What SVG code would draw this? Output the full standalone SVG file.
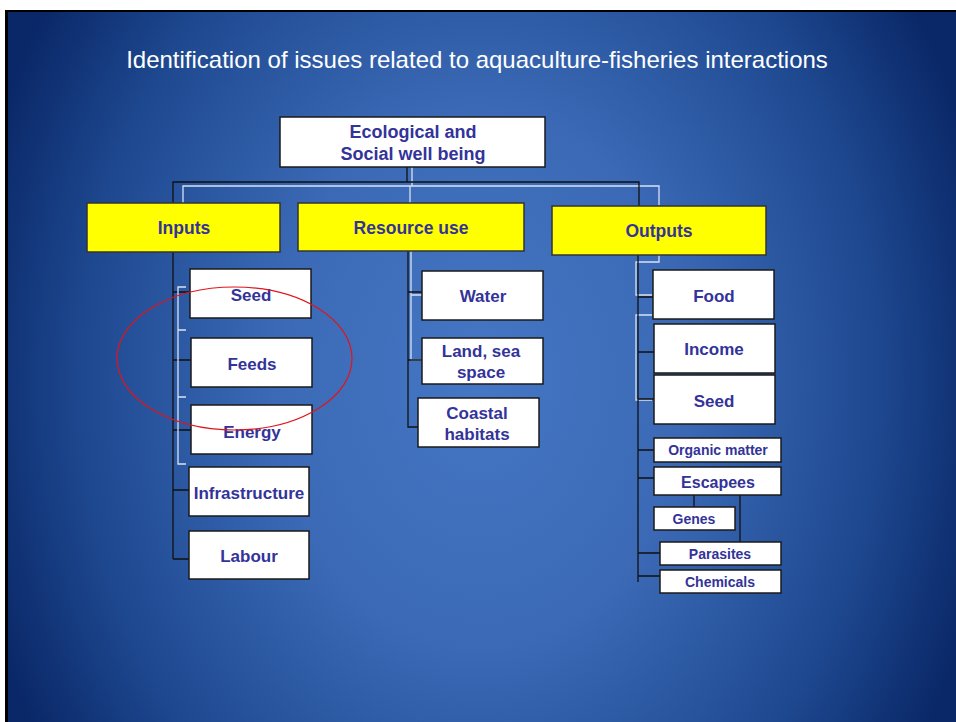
<svg xmlns="http://www.w3.org/2000/svg" width="956" height="722" viewBox="0 0 956 722">
<defs>
<radialGradient id="bg" gradientUnits="userSpaceOnUse" cx="480" cy="380" r="520" gradientTransform="translate(480 380) scale(1 1.3) translate(-480 -380)">
<stop offset="0" stop-color="#4577c4"/>
<stop offset="0.4" stop-color="#3b69b5"/>
<stop offset="0.75" stop-color="#1f4a92"/>
<stop offset="1" stop-color="#0a2868"/>
</radialGradient>
<style>
.wb{fill:#ffffff;stroke:#1a1a1a;stroke-width:1.5}
.yb{fill:#ffff00;stroke:#333333;stroke-width:1.5}
.t{font-family:"Liberation Sans",Arial,sans-serif;font-weight:bold;fill:#333399;text-anchor:middle}
.l{font-size:17px}
.s{font-size:14px}
.k{fill:none;stroke:#111111;stroke-width:1.3}
.w{fill:none;stroke:#d8e2f2;stroke-width:1.3}
</style>
</defs>
<rect x="0" y="0" width="956" height="722" fill="#ffffff"/>
<rect x="5" y="10" width="951" height="712" fill="#000000"/>
<rect x="8" y="12" width="948" height="710" fill="url(#bg)"/>
<text x="477" y="68" font-family="'Liberation Sans',Arial,sans-serif" font-size="24" fill="#ffffff" text-anchor="middle">Identification of issues related to aquaculture-fisheries interactions</text>

<g id="connectors">
<path class="w" d="M412 167V186 M183 203V186H659V205"/>
<path class="w" d="M410 186V203"/>
<path class="k" d="M407 167V182 M173 203V182H639V206"/>
<path class="k" d="M173 252V559 M173 292H190 M173 360H191 M173 430H191 M173 490H189 M173 559H189"/>
<path class="w" d="M186 287H178V464H186 M178 330H186 M178 397H186"/>
<path class="w" d="M411 251V360H422 M411 295H422"/>
<path class="k" d="M408 251V427H418 M408 292H422 M408 360H422"/>
<path class="w" d="M659 255V262H636V295H652 M652 315H636V400H652"/>
<path class="k" d="M638 255V582 M638 297H653 M638 352H654 M638 399H654 M638 450H654 M638 478H654 M638 553H660 M638 576H660 M694 495V507 M740 495V542"/>
</g>

<g id="top"><rect class="wb" x="280" y="117" width="265" height="50"/><text class="t" font-size="18" x="413" y="138">Ecological and</text><text class="t" font-size="18" x="413" y="160">Social well being</text></g>
<g id="inputs"><rect class="yb" x="87" y="203" width="193" height="49"/><text class="t" font-size="17.5" x="184" y="234">Inputs</text></g>
<g id="resource"><rect class="yb" x="298" y="203" width="226" height="48"/><text class="t" font-size="17.5" x="411" y="234">Resource use</text></g>
<g id="outputs"><rect class="yb" x="552" y="206" width="214" height="49"/><text class="t" font-size="17.5" x="659" y="237">Outputs</text></g>

<g id="seed1"><rect class="wb" x="190" y="269" width="121" height="49"/><text class="t l" x="251" y="301">Seed</text></g>
<g id="feeds"><rect class="wb" x="191" y="338" width="121" height="49"/><text class="t l" x="252" y="370">Feeds</text></g>
<g id="energy"><rect class="wb" x="191" y="405" width="121" height="49"/><text class="t l" x="252" y="438">Energy</text></g>
<g id="infra"><rect class="wb" x="189" y="467" width="120" height="49"/><text class="t l" x="249" y="499">Infrastructure</text></g>
<g id="labour"><rect class="wb" x="189" y="531" width="120" height="48"/><text class="t l" x="249" y="562">Labour</text></g>

<g id="water"><rect class="wb" x="422" y="271" width="121" height="49"/><text class="t l" x="483" y="302">Water</text></g>
<g id="land"><rect class="wb" x="422" y="338" width="121" height="46"/><text class="t l" x="481" y="357">Land, sea</text><text class="t l" x="481" y="378">space</text></g>
<g id="coastal"><rect class="wb" x="418" y="398" width="121" height="49"/><text class="t l" x="477" y="419">Coastal</text><text class="t l" x="477" y="440">habitats</text></g>

<g id="food"><rect class="wb" x="653" y="270" width="121" height="49"/><text class="t l" x="714" y="302">Food</text></g>
<g id="income"><rect class="wb" x="654" y="324" width="121" height="49"/><text class="t l" x="714" y="355">Income</text></g>
<g id="seed2"><rect class="wb" x="654" y="375" width="121" height="49"/><text class="t l" x="714" y="407">Seed</text></g>
<g id="organic"><rect class="wb" x="654" y="438" width="127" height="24"/><text class="t s" x="718" y="455">Organic matter</text></g>
<g id="escapees"><rect class="wb" x="654" y="467" width="127" height="28"/><text class="t" font-size="16" x="718" y="488">Escapees</text></g>
<g id="genes"><rect class="wb" x="654" y="507" width="81" height="23"/><text class="t" font-size="14" x="694" y="524">Genes</text></g>
<g id="parasites"><rect class="wb" x="660" y="542" width="121" height="23"/><text class="t" font-size="14" x="720" y="559">Parasites</text></g>
<g id="chemicals"><rect class="wb" x="660" y="570" width="121" height="23"/><text class="t" font-size="14" x="720" y="587">Chemicals</text></g>

<ellipse cx="234.5" cy="358.5" rx="117.5" ry="71.5" fill="none" stroke="#e0151b" stroke-width="1.2"/>
</svg>
